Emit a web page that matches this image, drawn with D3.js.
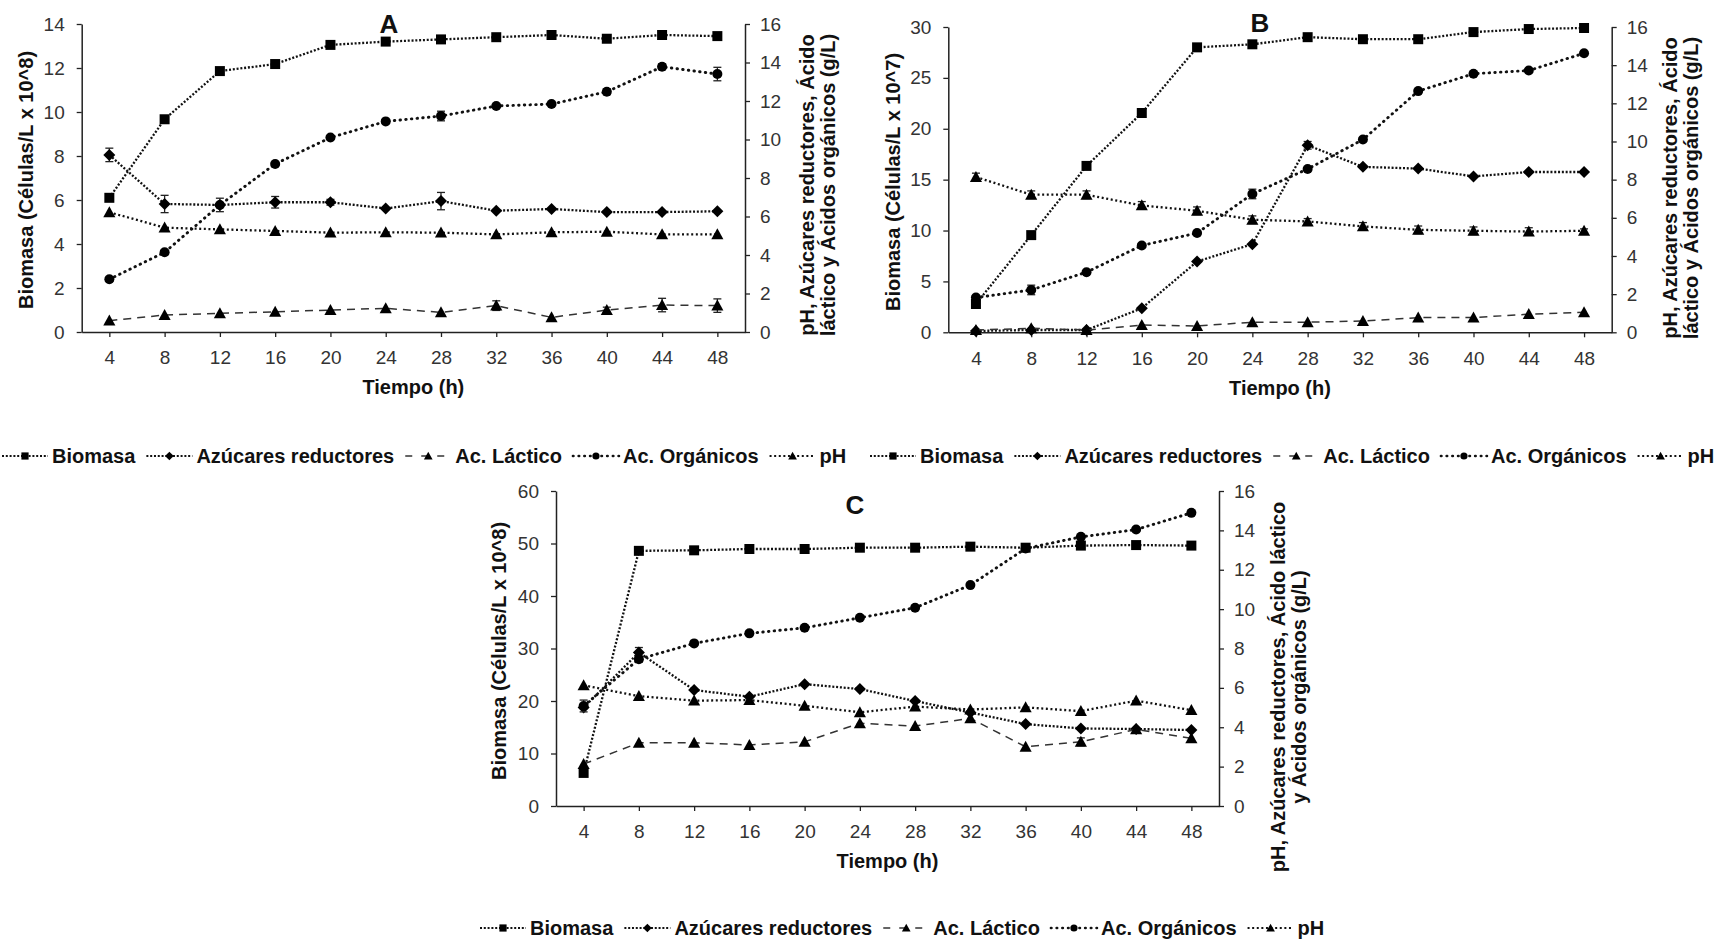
<!DOCTYPE html>
<html>
<head>
<meta charset="utf-8">
<script src="https://cdn.jsdelivr.net/npm/d3@7"></script>
<style>
  html, body { margin: 0; padding: 0; background: #fff; }
  svg { display: block; }
  text { font-family: "Liberation Sans", Arial, sans-serif; }
</style>
</head>
<body>
<script>
// ---------------- DATA ----------------
const hours = [4, 8, 12, 16, 20, 24, 28, 32, 36, 40, 44, 48];
const seriesNames = ["Biomasa", "Azúcares reductores", "Ac. Láctico", "Ac. Orgánicos", "pH"];
const panelTitles = ["A", "B", "C"];
const xTitle = "Tiempo (h)";
const leftTitleA = "Biomasa (Células/L x 10^8)";
const leftTitleB = "Biomasa (Células/L x 10^7)";
const leftTitleC = "Biomasa (Células/L x 10^8)";
const rightTitleAB = ["pH, Azúcares reductores, Ácido", "láctico y Ácidos orgánicos (g/L)"];
const rightTitleC = ["pH, Azúcares reductores, Ácido láctico", "y Ácidos orgánicos (g/L)"];

const leftTicksA = [0, 2, 4, 6, 8, 10, 12, 14];
const leftTicksB = [0, 5, 10, 15, 20, 25, 30];
const leftTicksC = [0, 10, 20, 30, 40, 50, 60];
const rightTicks = [0, 2, 4, 6, 8, 10, 12, 14, 16];

// Panel A
const biomasaA   = [6.1, 9.67, 11.86, 12.18, 13.05, 13.2, 13.3, 13.4, 13.5, 13.33, 13.5, 13.45];
const azucaresA  = [9.2, 6.65, 6.6, 6.74, 6.74, 6.42, 6.8, 6.3, 6.39, 6.23, 6.23, 6.27];
const lacticoA   = [0.59, 0.88, 0.97, 1.05, 1.14, 1.23, 1.02, 1.37, 0.76, 1.14, 1.4, 1.37];
const organicosA = [2.74, 4.14, 6.6, 8.73, 10.1, 10.94, 11.22, 11.74, 11.84, 12.48, 13.78, 13.4];
const phA        = [6.22, 5.42, 5.33, 5.25, 5.16, 5.18, 5.16, 5.07, 5.18, 5.21, 5.07, 5.07];
const errAzucaresA  = [0.35, 0.45, 0.35, 0.3, 0.15, 0, 0.45, 0, 0, 0, 0, 0];
const errOrganicosA = [0.1, 0.1, 0, 0, 0, 0, 0.25, 0, 0, 0.15, 0.15, 0.35];
const errLacticoA   = [0, 0, 0, 0, 0, 0, 0, 0.25, 0, 0.15, 0.35, 0.35];

// Panel B
const biomasaB   = [2.78, 9.55, 16.35, 21.55, 28.0, 28.3, 29.0, 28.8, 28.8, 29.5, 29.8, 29.9];
const azucaresB  = [0.07, 0.12, 0.12, 1.26, 3.71, 4.62, 9.8, 8.67, 8.58, 8.17, 8.4, 8.4];
const lacticoB   = [0.12, 0.21, 0.12, 0.38, 0.33, 0.53, 0.53, 0.59, 0.77, 0.77, 0.95, 1.05];
const organicosB = [1.82, 2.22, 3.15, 4.55, 5.2, 7.25, 8.56, 10.1, 12.64, 13.55, 13.72, 14.62];
const phB        = [8.14, 7.21, 7.21, 6.65, 6.37, 5.9, 5.81, 5.55, 5.37, 5.32, 5.28, 5.32];
const errPhB        = [0.2, 0.2, 0.2, 0.2, 0.2, 0.2, 0.15, 0.2, 0.2, 0.2, 0.2, 0.1];
const errOrganicosB = [0.1, 0.25, 0, 0, 0, 0.25, 0, 0, 0, 0, 0, 0];
const errAzucaresB  = [0, 0, 0, 0, 0, 0, 0.2, 0, 0, 0, 0, 0];

// Panel C
const biomasaC   = [6.3, 48.6, 48.7, 48.95, 48.95, 49.2, 49.2, 49.4, 49.2, 49.6, 49.7, 49.6];
const azucaresC  = [5.0, 7.8, 5.89, 5.55, 6.19, 5.94, 5.33, 4.75, 4.16, 3.94, 3.91, 3.86];
const lacticoC   = [2.13, 3.21, 3.21, 3.1, 3.26, 4.2, 4.06, 4.45, 3.01, 3.26, 3.89, 3.44];
const organicosC = [5.08, 7.46, 8.26, 8.77, 9.05, 9.56, 10.07, 11.22, 13.08, 13.67, 14.04, 14.89];
const phC        = [6.13, 5.58, 5.35, 5.38, 5.09, 4.76, 5.05, 4.9, 5.01, 4.82, 5.35, 4.87];
const errOrganicosC = [0.3, 0.15, 0, 0, 0, 0, 0, 0, 0, 0, 0, 0];
const errAzucaresC  = [0, 0.25, 0, 0, 0, 0, 0, 0, 0, 0, 0, 0];
const errLacticoC   = [0, 0, 0, 0, 0, 0, 0, 0, 0, 0.2, 0, 0];

// ---------------- STYLES ----------------
const styles = {
  "Biomasa":             { marker: "square",   size: 10, dash: "2,1.8", width: 2.3, cap: "butt",  axis: "left",  color: "#111" },
  "Azúcares reductores": { marker: "diamond",  size: 12, dash: "2,1.8", width: 2.3, cap: "butt",  axis: "right", color: "#111" },
  "Ac. Láctico":         { marker: "triangle", size: 11, dash: "8,6",   width: 1.5, cap: "butt",  axis: "right", color: "#333" },
  "Ac. Orgánicos":       { marker: "circle",   size: 10, dash: "0.5,5.2", width: 2.9, cap: "round", axis: "right", color: "#111" },
  "pH":                  { marker: "triangle", size: 11, dash: "2,2.6", width: 2.3, cap: "butt",  axis: "right", color: "#111" }
};

const W = 1732, H = 947;
const svg = d3.select("body").append("svg").attr("width", W).attr("height", H);
svg.append("rect").attr("width", W).attr("height", H).attr("fill", "#fff");

function markerPath(type, s) {
  const h = s / 2;
  if (type === "square") return `M${-h},${-h}H${h}V${h}H${-h}Z`;
  if (type === "diamond") return `M0,${-h}L${h},0L0,${h}L${-h},0Z`;
  if (type === "triangle") return `M0,${-s * 0.55}L${s * 0.55},${s * 0.45}L${-s * 0.55},${s * 0.45}Z`;
  return null;
}

function drawMarker(g, type, s, cx, cy, color) {
  if (type === "circle") {
    g.append("circle").attr("cx", cx).attr("cy", cy).attr("r", s / 2).attr("fill", color);
  } else {
    g.append("path").attr("d", markerPath(type, s)).attr("transform", `translate(${cx},${cy})`).attr("fill", color);
  }
}

function styleAxis(sel) {
  sel.select(".domain").attr("stroke", "#222").attr("stroke-width", 1.5);
  sel.selectAll(".tick line").attr("stroke", "#222").attr("stroke-width", 1.3);
  sel.selectAll(".tick text").attr("fill", "#333").attr("font-size", 19).attr("font-family", "Liberation Sans, Arial, sans-serif");
}

function drawPanel(cfg) {
  const g = svg.append("g");
  const x = d3.scaleLinear().domain([2, 50]).range([cfg.x0, cfg.x1]);
  const yL = d3.scaleLinear().domain([0, d3.max(cfg.leftTicks)]).range([cfg.yBot, cfg.yTop]);
  const yR = d3.scaleLinear().domain([0, d3.max(rightTicks)]).range([cfg.yBot, cfg.yTop]);

  const gx = g.append("g").attr("transform", `translate(0,${cfg.yBot})`)
    .call(d3.axisBottom(x).tickValues(hours).tickSize(5).tickSizeOuter(0).tickPadding(14));
  styleAxis(gx);
  const gl = g.append("g").attr("transform", `translate(${cfg.x0},0)`)
    .call(d3.axisLeft(yL).tickValues(cfg.leftTicks).tickSize(5).tickSizeOuter(0).tickPadding(12));
  styleAxis(gl);
  const gr = g.append("g").attr("transform", `translate(${cfg.x1},0)`)
    .call(d3.axisRight(yR).tickValues(rightTicks).tickSize(5).tickSizeOuter(0).tickPadding(10));
  styleAxis(gr);

  // series
  cfg.series.forEach(s => {
    const st = styles[s.name];
    const y = st.axis === "left" ? yL : yR;
    const line = d3.line().x((d, i) => x(hours[i])).y(d => y(d));
    g.append("path").datum(s.values).attr("d", line)
      .attr("fill", "none").attr("stroke", st.color).attr("stroke-width", st.width)
      .attr("stroke-dasharray", st.dash).attr("stroke-linecap", st.cap);
    if (s.err) {
      s.err.forEach((e, i) => {
        if (!e) return;
        const cx = x(hours[i]);
        const y1 = y(s.values[i] - e), y2 = y(s.values[i] + e);
        g.append("line").attr("x1", cx).attr("x2", cx).attr("y1", y1).attr("y2", y2).attr("stroke", "#222").attr("stroke-width", 1.3);
        [y1, y2].forEach(yy => g.append("line").attr("x1", cx - 4).attr("x2", cx + 4).attr("y1", yy).attr("y2", yy).attr("stroke", "#222").attr("stroke-width", 1.3));
      });
    }
    s.values.forEach((v, i) => drawMarker(g, st.marker, st.size, x(hours[i]), y(v), "#000"));
  });

  // titles
  g.append("text").attr("x", cfg.titlePos[0]).attr("y", cfg.titlePos[1]).attr("dy", "0.36em")
    .attr("text-anchor", "middle").attr("font-weight", "bold").attr("font-size", 26).attr("fill", "#111").text(cfg.title);
  g.append("text").attr("x", (cfg.x0 + cfg.x1) / 2).attr("y", cfg.yBot + 55).attr("dy", "0.36em")
    .attr("text-anchor", "middle").attr("font-weight", "bold").attr("font-size", 20).attr("fill", "#111").text(xTitle);
  g.append("text").attr("transform", `translate(${cfg.leftTitlePos[0]},${cfg.leftTitlePos[1]}) rotate(-90)`).attr("dy", "0.36em")
    .attr("text-anchor", "middle").attr("font-weight", "bold").attr("font-size", 20).attr("fill", "#111").text(cfg.leftTitle);
  cfg.rightTitle.forEach((t, i) => {
    g.append("text").attr("transform", `translate(${cfg.rightTitlePos[0] + i * 21},${cfg.rightTitlePos[1]}) rotate(-90)`).attr("dy", "0.36em")
      .attr("text-anchor", "middle").attr("font-weight", "bold").attr("font-size", 20).attr("fill", "#111").text(t);
  });
}

function drawLegend(x0, yc) {
  const g = svg.append("g");
  let x = x0;
  seriesNames.forEach(name => {
    const st = styles[name];
    const sw = 46;
    g.append("line").attr("x1", x).attr("x2", x + sw).attr("y1", yc).attr("y2", yc)
      .attr("stroke", st.color).attr("stroke-width", st.width * 0.9)
      .attr("stroke-dasharray", name === "Ac. Láctico" ? "7,9" : st.dash).attr("stroke-linecap", st.cap);
    drawMarker(g, st.marker, st.size * 0.72, x + sw / 2, yc, "#000");
    const t = g.append("text").attr("x", x + sw + 4).attr("y", yc).attr("dy", "0.36em")
      .attr("font-weight", "bold").attr("font-size", 20).attr("fill", "#111").text(name);
    x = x + sw + 4 + t.node().getComputedTextLength() + 11;
  });
}

drawPanel({
  title: panelTitles[0], titlePos: [389, 24],
  x0: 81.7, x1: 745, yTop: 24, yBot: 332,
  leftTicks: leftTicksA, leftTitle: leftTitleA, leftTitlePos: [26, 180],
  rightTitle: rightTitleAB, rightTitlePos: [806.5, 185],
  series: [
    { name: seriesNames[0], values: biomasaA },
    { name: seriesNames[1], values: azucaresA, err: errAzucaresA },
    { name: seriesNames[2], values: lacticoA, err: errLacticoA },
    { name: seriesNames[3], values: organicosA, err: errOrganicosA },
    { name: seriesNames[4], values: phA }
  ]
});

drawPanel({
  title: panelTitles[1], titlePos: [1260, 23],
  x0: 948.3, x1: 1611.7, yTop: 27, yBot: 332.3,
  leftTicks: leftTicksB, leftTitle: leftTitleB, leftTitlePos: [892.5, 182],
  rightTitle: rightTitleAB, rightTitlePos: [1670, 188],
  series: [
    { name: seriesNames[0], values: biomasaB },
    { name: seriesNames[1], values: azucaresB, err: errAzucaresB },
    { name: seriesNames[2], values: lacticoB },
    { name: seriesNames[3], values: organicosB, err: errOrganicosB },
    { name: seriesNames[4], values: phB, err: errPhB }
  ]
});

drawPanel({
  title: panelTitles[2], titlePos: [855, 505],
  x0: 556, x1: 1219, yTop: 491, yBot: 806,
  leftTicks: leftTicksC, leftTitle: leftTitleC, leftTitlePos: [499, 651],
  rightTitle: rightTitleC, rightTitlePos: [1278, 687],
  series: [
    { name: seriesNames[0], values: biomasaC },
    { name: seriesNames[1], values: azucaresC, err: errAzucaresC },
    { name: seriesNames[2], values: lacticoC, err: errLacticoC },
    { name: seriesNames[3], values: organicosC, err: errOrganicosC },
    { name: seriesNames[4], values: phC }
  ]
});

drawLegend(2, 456);
drawLegend(870, 456);
drawLegend(480, 928);
</script>
</body>
</html>
